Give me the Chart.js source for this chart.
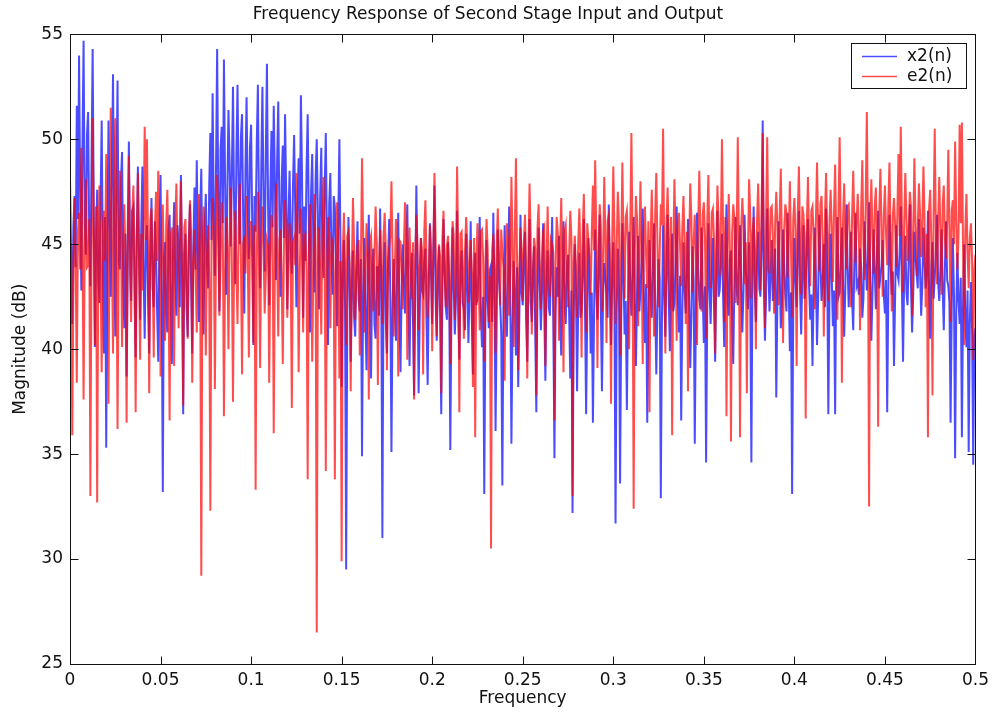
<!DOCTYPE html>
<html>
<head>
<meta charset="utf-8">
<script src="https://cdn.jsdelivr.net/npm/chart.js@4.4.0/dist/chart.umd.min.js"></script>
<style>
  html, body { margin: 0; padding: 0; background: #fff; }
  #wrap { width: 995px; height: 719px; }
</style>
</head>
<body>
<div id="wrap"><canvas id="c" width="995" height="719"></canvas></div>
<script>
// Frequency grid: 801 samples from 0 to 0.5 (16 per 0.01)
const FREQ_STEP = 0.000625;

// Second stage input x2(n), magnitude in dB
const x2Mag = [
  48.1, 44.6, 41.2, 45.8, 47.3, 43.9, 51.6, 46.2, 54.0, 47.5, 42.8, 49.7, 54.7, 46.1, 44.5, 50.2,
  51.3, 45.4, 43.0, 48.8, 54.3, 46.7, 40.1, 44.9, 47.6, 43.3, 42.2, 47.1, 50.9, 44.0, 39.8, 46.3,
  35.3, 44.7, 50.9, 46.0, 42.5, 48.3, 53.1, 45.6, 40.6, 47.9, 52.8, 44.2, 43.8, 48.0, 49.4, 43.1,
  41.0, 45.5, 38.7, 44.1, 49.9, 45.0, 42.3, 46.6, 46.8, 42.7, 39.6, 45.3, 48.7, 44.4, 41.4, 46.0,
  48.7, 43.6, 40.5, 45.1, 45.9, 42.4, 39.8, 44.8, 47.2, 43.0, 42.0, 46.1, 44.6, 41.7, 39.4, 45.6,
  48.3, 42.9, 33.2, 44.3, 45.1, 41.8, 40.8, 45.7, 46.4, 42.5, 39.3, 44.6, 47.0, 43.4, 41.6, 45.9,
  44.8, 42.0, 48.3, 43.7, 36.9, 44.5, 45.5, 41.9, 40.6, 45.2, 46.9, 43.1, 39.8, 44.9, 47.7, 43.8,
  49.0, 44.6, 41.3, 46.3, 48.6, 43.2, 40.7, 45.9, 47.4, 44.1, 42.9, 47.8, 50.3, 45.2, 52.2, 46.5,
  43.5, 48.6, 54.3, 47.2, 41.8, 49.5, 50.6, 46.0, 53.8, 48.1, 42.6, 47.4, 51.4, 49.0, 44.9, 48.4,
  52.5, 46.8, 43.1, 49.2, 52.6, 47.7, 45.0, 50.1, 51.2, 46.3, 41.7, 48.5, 52.0, 47.0, 44.3, 49.6,
  50.7, 45.9, 40.2, 47.3, 45.6, 49.8, 52.6, 46.4, 42.9, 48.7, 52.5, 47.1, 43.7, 49.3, 53.6, 46.9,
  42.1, 47.6, 50.4, 45.8, 51.6, 48.2, 43.3, 49.0, 51.8, 46.5, 42.5, 48.0, 49.7, 45.3, 51.2, 47.4,
  41.9, 46.2, 48.5, 44.9, 43.6, 47.8, 50.2, 46.6, 42.0, 47.0, 49.1, 45.5, 52.1, 48.3, 41.5, 46.8,
  44.2, 48.6, 51.2, 46.1, 40.8, 47.5, 49.3, 45.0, 42.7, 48.1, 50.0, 46.3, 41.9, 47.2, 49.6, 44.7,
  43.4, 47.6, 50.3, 45.2, 40.2, 46.9, 48.4, 44.5, 42.6, 47.3, 46.8, 43.9, 41.1, 46.0, 50.0, 44.8,
  38.2, 43.5, 45.2, 42.1, 29.5, 41.8, 46.3, 43.3, 39.4, 42.9, 44.7, 41.5, 40.6, 43.8, 46.1, 42.4,
  41.8, 44.3, 34.9, 42.7, 45.3, 41.4, 39.0, 43.6, 46.4, 42.0, 38.6, 44.0, 44.8, 41.2, 40.5, 43.9,
  43.9, 41.6, 46.7, 42.8, 31.0, 43.5, 45.1, 41.3, 39.8, 44.2, 46.2, 42.6, 35.1, 41.9, 44.3, 42.2,
  40.4, 43.7, 46.5, 41.8, 38.9, 42.9, 45.0, 43.2, 41.7, 44.5, 46.9, 42.3, 39.2, 43.4, 44.6, 41.5,
  37.8, 42.6, 47.8, 43.9, 37.9, 41.7, 45.3, 42.8, 42.6, 44.1, 44.8, 41.2, 38.3, 42.9, 46.0, 43.6,
  41.2, 44.4, 47.8, 42.5, 40.4, 43.1, 44.9, 41.6, 36.9, 42.7, 46.2, 43.8, 42.0, 41.4, 45.1, 42.9,
  35.2, 41.9, 45.8, 43.0, 40.7, 42.4, 46.6, 41.8, 39.5, 43.7, 44.7, 42.2, 41.9, 40.9, 45.5, 43.3,
  40.3, 42.8, 46.1, 41.5, 38.8, 43.6, 44.6, 42.1, 42.4, 44.0, 46.3, 41.7, 40.1, 42.5, 33.1, 41.2,
  45.2, 42.4, 41.0, 43.8, 44.0, 41.3, 46.5, 42.9, 36.1, 41.6, 45.7, 43.5, 42.3, 40.8, 33.5, 42.0,
  45.9, 41.9, 40.6, 43.4, 46.8, 42.6, 35.5, 41.1, 44.2, 42.8, 39.7, 43.9, 38.2, 41.5, 46.4, 42.7,
  42.1, 44.3, 45.6, 41.4, 39.4, 43.0, 46.2, 42.3, 41.3, 43.7, 44.9, 41.0, 37.0, 42.6, 45.8, 43.1,
  40.9, 42.7, 46.0, 41.9, 38.5, 43.3, 44.7, 42.0, 41.6, 44.1, 46.3, 41.4, 34.8, 41.8, 43.9, 42.5,
  45.4, 41.6, 39.7, 43.5, 46.1, 42.4, 41.2, 43.9, 44.5, 41.7, 38.6, 42.8, 32.2, 41.3, 45.0, 42.9,
  38.0, 42.2, 44.6, 41.5, 41.9, 43.6, 46.2, 42.0, 36.9, 41.8, 45.3, 43.2, 39.8, 42.7, 36.5, 41.6,
  45.7, 42.9, 41.4, 43.7, 46.4, 41.9, 38.0, 42.6, 44.1, 43.4, 42.7, 41.5, 46.9, 42.8, 40.2, 43.3,
  45.1, 42.0, 31.7, 41.7, 44.8, 42.9, 33.6, 41.4, 46.0, 43.6, 40.7, 42.3, 37.1, 41.9, 45.6, 43.0,
  41.6, 43.8, 46.3, 42.1, 39.2, 42.7, 45.4, 41.8, 42.8, 44.2, 46.7, 42.5, 40.3, 43.1, 36.5, 41.6,
  45.2, 42.8, 41.5, 43.9, 46.0, 42.2, 38.8, 41.9, 44.3, 43.3, 32.9, 41.5, 45.9, 42.6, 40.6, 43.7,
  46.4, 42.4, 39.9, 43.1, 45.5, 41.8, 42.2, 44.0, 46.8, 42.7, 40.8, 43.5, 36.6, 41.7, 45.1, 42.9,
  41.7, 43.6, 46.2, 42.3, 39.1, 41.6, 44.9, 43.2, 35.5, 42.0, 46.5, 43.8, 42.4, 41.9, 45.8, 42.6,
  40.3, 43.0, 34.6, 41.8, 46.0, 42.9, 41.2, 43.7, 45.3, 42.1, 39.4, 43.4, 46.6, 42.5, 42.8, 44.1,
  45.5, 42.6, 40.1, 43.9, 46.9, 42.2, 41.6, 44.3, 44.7, 41.7, 39.3, 43.2, 46.3, 42.9, 42.1, 44.5,
  45.9, 43.1, 40.8, 42.7, 46.4, 43.8, 43.0, 41.9, 45.1, 42.4, 34.6, 43.6, 46.8, 42.8, 41.3, 44.2,
  45.6, 42.9, 42.5, 44.7, 50.9, 43.3, 40.4, 42.6, 46.7, 44.0, 41.8, 43.5, 45.2, 42.3, 43.4, 44.8,
  37.7, 42.5, 46.1, 43.7, 41.0, 42.2, 45.7, 43.9, 42.6, 41.8, 46.5, 43.0, 39.9, 42.7, 33.1, 42.1,
  45.3, 43.4, 42.0, 44.6, 46.6, 42.8, 40.7, 43.5, 45.9, 42.4, 43.1, 44.9, 46.2, 43.0, 41.4, 42.6,
  39.2, 42.9, 45.8, 43.6, 40.2, 42.4, 46.4, 44.1, 42.3, 43.2, 45.0, 42.0, 46.7, 43.8, 36.9, 42.7,
  45.5, 43.5, 41.1, 42.8, 36.9, 43.9, 46.3, 42.5, 42.7, 44.4, 45.8, 43.1, 40.6, 42.9, 46.9, 44.0,
  42.0, 43.6, 45.6, 42.3, 40.9, 44.2, 46.5, 43.0, 43.2, 42.6, 44.8, 43.9, 41.5, 42.4, 46.1, 44.3,
  42.8, 44.1, 47.0, 43.4, 40.4, 42.7, 45.7, 43.8, 41.9, 44.5, 46.6, 42.9, 43.5, 44.0, 45.2, 42.6,
  41.7, 43.3, 37.0, 42.8, 46.4, 44.2, 42.6, 43.7, 39.2, 42.5, 45.9, 43.6, 43.3, 44.6, 46.8, 42.9,
  39.4, 43.5, 45.4, 42.7, 42.1, 44.3, 46.9, 43.1, 40.8, 42.6, 45.6, 44.4, 43.7, 42.9, 46.2, 43.8,
  41.6, 43.0, 45.8, 44.2, 42.9, 43.5, 46.6, 42.8, 40.5, 43.9, 45.1, 42.4, 43.4, 44.7, 46.4, 43.2,
  42.3, 43.8, 45.7, 42.9, 40.9, 44.0, 46.1, 43.3, 43.0, 42.2, 36.5, 41.9, 45.3, 42.6, 34.8, 41.7,
  44.6, 42.3, 41.2, 43.4, 35.8, 42.0, 45.0, 41.5, 40.1, 42.8, 35.1, 41.3, 43.2, 40.9, 34.5, 40.6,
  41.0
];

// Second stage output e2(n), magnitude in dB
const e2Mag = [
  41.7, 44.9, 35.9, 43.2, 47.2, 44.1, 38.4, 45.6, 46.5, 43.8, 49.6, 45.3, 37.6, 44.7, 48.1, 43.9,
  44.0, 46.2, 33.0, 44.5, 51.0, 45.1, 40.2, 46.8, 32.7, 44.3, 47.8, 43.6, 38.9, 45.9, 46.6, 44.2,
  49.3, 45.4, 37.4, 46.3, 51.5, 44.8, 39.8, 47.0, 51.0, 45.7, 36.2, 44.0, 48.5, 46.1, 40.1, 45.2,
  46.9, 44.3, 36.5, 45.8, 49.2, 43.7, 41.3, 46.4, 47.8, 44.6, 37.0, 45.1, 48.4, 43.9, 39.5, 45.5,
  42.8, 46.0, 50.6, 45.2, 50.0, 44.4, 37.9, 46.2, 46.7, 43.8, 39.6, 45.7, 47.5, 44.2, 48.5, 45.0,
  38.7, 44.6, 46.9, 43.5, 40.4, 45.9, 47.6, 44.1, 36.6, 45.4, 45.8, 43.3, 39.2, 46.0, 47.9, 44.4,
  41.0, 45.3, 48.0, 44.0, 37.3, 45.8, 46.2, 43.6, 40.5, 44.9, 47.1, 45.5, 38.4, 44.2, 45.7, 43.7,
  40.8, 45.1, 47.4, 44.3, 29.2, 43.9, 46.8, 45.0, 39.7, 44.5, 45.9, 43.4, 32.3, 44.8, 47.2, 45.6,
  38.1, 44.7, 48.3, 45.2, 41.6, 44.0, 47.0, 45.8, 36.8, 43.7, 46.3, 44.9, 40.0, 45.4, 47.7, 44.1,
  37.5, 44.6, 46.6, 43.9, 41.2, 45.7, 47.9, 44.3, 38.8, 45.0, 45.4, 43.6, 47.3, 44.8, 39.6, 45.5,
  46.1, 44.2, 40.3, 45.9, 33.3, 44.4, 47.5, 43.8, 39.1, 45.3, 46.8, 44.7, 41.7, 43.5, 45.2, 44.9,
  38.4, 44.1, 46.4, 45.6, 36.0, 43.9, 47.9, 44.6, 40.6, 45.2, 45.7, 43.4, 39.3, 44.8, 47.1, 45.3,
  41.5, 44.3, 46.0, 43.7, 37.2, 45.1, 45.3, 44.0, 48.4, 45.8, 38.9, 43.6, 46.7, 44.5, 40.8, 45.4,
  45.5, 43.8, 33.8, 44.6, 46.9, 45.0, 39.4, 43.5, 47.4, 44.7, 26.5, 44.1, 45.8, 43.9, 40.7, 45.6,
  48.2, 44.9, 34.2, 43.7, 46.3, 44.4, 41.0, 45.3, 45.1, 43.6, 33.8, 44.8, 47.0, 45.1, 38.6, 44.2,
  29.9, 44.5, 46.5, 43.9, 40.2, 45.4, 45.6, 44.1, 38.0, 43.8, 47.2, 44.9, 41.4, 43.5, 44.9, 45.2,
  39.7, 44.2, 49.1, 45.5, 40.8, 43.9, 46.0, 44.6, 37.6, 45.1, 45.4, 43.7, 41.8, 44.4, 46.8, 45.0,
  38.3, 44.0, 45.7, 43.6, 41.2, 45.3, 46.5, 44.8, 39.0, 43.9, 44.8, 45.4, 48.0, 44.3, 40.6, 43.8,
  46.2, 44.5, 38.7, 45.2, 45.1, 43.7, 41.9, 44.9, 47.0, 45.5, 39.5, 44.1, 45.8, 43.6, 42.4, 45.1,
  37.6, 44.3, 46.4, 45.0, 40.9, 43.8, 45.3, 44.7, 38.8, 45.6, 47.1, 44.0, 41.5, 43.5, 45.9, 44.8,
  39.9, 44.6, 48.4, 45.3, 40.6, 43.9, 45.0, 44.4, 37.9, 45.2, 46.6, 43.7, 42.0, 44.9, 45.4, 43.6,
  39.3, 44.1, 46.1, 45.4, 41.4, 43.8, 48.7, 44.6, 37.0, 45.5, 45.6, 43.9, 40.5, 44.7, 46.3, 45.0,
  42.2, 44.0, 45.2, 43.6, 38.2, 45.3, 35.8, 44.2, 46.0, 43.7, 40.9, 45.6, 45.7, 44.4, 39.4, 43.9,
  46.2, 44.8, 41.3, 43.5, 30.5, 44.7, 45.5, 43.8, 39.8, 45.1, 46.7, 44.3, 42.1, 45.7, 44.6, 43.9,
  38.5, 44.4, 46.0, 45.2, 41.6, 43.7, 48.2, 44.9, 40.1, 45.5, 49.1, 44.2, 39.0, 43.8, 45.8, 44.6,
  42.3, 45.1, 46.4, 43.9, 38.6, 44.5, 47.9, 45.4, 40.7, 43.6, 45.3, 44.8, 37.8, 45.7, 46.9, 44.0,
  41.9, 44.3, 45.6, 45.8, 39.2, 44.1, 46.8, 43.7, 42.5, 45.2, 45.0, 44.6, 36.6, 43.9, 46.3, 45.5,
  40.4, 44.8, 47.2, 44.0, 38.9, 45.6, 45.9, 43.8, 42.0, 44.5, 46.6, 45.3, 33.0, 44.2, 45.4, 43.9,
  41.5, 45.0, 46.7, 44.4, 39.6, 45.7, 47.4, 44.1, 40.8, 46.0, 45.2, 44.3, 42.6, 45.5, 47.8, 44.7,
  49.0, 45.3, 39.1, 44.6, 46.9, 45.9, 41.8, 44.2, 48.2, 45.4, 40.3, 46.1, 46.4, 44.5, 37.4, 45.0,
  48.7, 45.6, 41.2, 44.8, 47.5, 46.0, 39.7, 44.3, 48.9, 45.2, 42.4, 46.3, 46.6, 44.9, 40.0, 45.7,
  50.3, 45.1, 32.4, 44.6, 47.3, 46.2, 41.1, 45.0, 48.0, 44.7, 39.3, 45.8, 46.8, 44.4, 42.9, 46.1,
  37.0, 45.3, 47.6, 44.9, 40.6, 46.4, 48.4, 45.1, 42.0, 44.6, 46.9, 45.9, 50.5, 44.8, 39.8, 46.0,
  47.7, 45.2, 41.9, 46.3, 35.9, 44.7, 48.1, 45.5, 40.4, 46.1, 46.5, 44.9, 43.0, 45.8, 47.3, 45.0,
  41.2, 45.6, 38.0, 44.8, 47.9, 46.2, 42.7, 45.1, 46.4, 44.6, 40.2, 45.9, 48.5, 45.3, 41.8, 46.4,
  47.0, 45.4, 40.5, 46.0, 48.3, 44.9, 42.9, 46.5, 46.7, 45.2, 39.8, 44.7, 47.8, 46.1, 43.5, 45.5,
  50.0, 45.8, 41.3, 46.3, 36.8, 45.0, 47.4, 44.8, 35.6, 45.6, 46.9, 46.2, 42.2, 45.3, 50.1, 44.9,
  35.8, 45.7, 47.2, 46.0, 43.1, 45.1, 37.9, 44.7, 48.1, 46.4, 42.4, 45.5, 46.3, 44.8, 40.0, 46.1,
  47.9, 45.3, 42.8, 46.6, 50.3, 45.0, 41.0, 46.2, 50.1, 44.9, 43.6, 46.7, 46.8, 45.4, 41.7, 46.0,
  47.5, 45.9, 42.1, 46.3, 48.6, 44.8, 40.3, 45.7, 46.9, 46.5, 43.4, 45.2, 48.0, 44.9, 41.5, 46.2,
  47.2, 45.6, 39.2, 46.4, 48.7, 45.1, 42.6, 46.8, 46.4, 45.3, 36.7, 45.9, 48.2, 44.9, 43.0, 46.6,
  46.8, 45.4, 41.9, 46.1, 48.9, 45.7, 43.7, 46.9, 47.3, 45.0, 40.6, 46.3, 48.4, 45.5, 42.3, 46.0,
  47.6, 45.8, 43.2, 46.5, 48.8, 45.2, 41.4, 46.7, 50.1, 45.6, 38.4, 46.2, 47.9, 45.0, 43.8, 46.8,
  46.9, 45.3, 42.0, 46.4, 48.5, 45.9, 44.1, 46.1, 47.4, 45.5, 40.9, 46.6, 49.0, 45.1, 43.3, 46.9,
  51.3, 45.7, 32.5, 46.2, 48.1, 45.4, 43.6, 46.8, 47.7, 45.0, 36.3, 46.5, 48.6, 45.8, 42.5, 46.3,
  47.8, 45.5, 44.0, 46.9, 48.9, 45.2, 41.8, 46.4, 47.2, 45.9, 43.9, 46.6, 49.3, 45.4, 50.6, 46.1,
  42.7, 45.8, 48.4, 46.3, 44.2, 45.6, 47.5, 46.8, 41.6, 45.3, 49.1, 46.0, 43.5, 45.7, 47.9, 46.5,
  44.4, 45.9, 48.7, 46.2, 42.0, 45.5, 35.8, 46.7, 47.6, 45.1, 37.8, 46.4, 50.5, 45.8, 43.1, 46.0,
  48.2, 45.6, 42.6, 46.9, 47.8, 45.3, 44.3, 46.1, 49.5, 45.7, 41.3, 46.6, 47.1, 45.0, 49.9, 46.2,
  43.8, 45.4, 50.7, 46.0, 50.8, 44.9, 40.2, 45.6, 47.4, 44.6, 42.9, 45.3, 46.0, 44.2, 39.5, 43.8,
  44.5
];

const xTicks = [0, 0.05, 0.1, 0.15, 0.2, 0.25, 0.3, 0.35, 0.4, 0.45, 0.5];
const xTickLabels = ['0', '0.05', '0.1', '0.15', '0.2', '0.25', '0.3', '0.35', '0.4', '0.45', '0.5'];
const yTicks = [25, 30, 35, 40, 45, 50, 55];

const seriesNames = ['x2(n)', 'e2(n)'];
const seriesColors = ['rgba(0, 0, 255, 0.7)', 'rgba(255, 0, 0, 0.7)'];

function toPoints(values) {
  return values.map((v, i) => ({ x: i * FREQ_STEP, y: v }));
}

// MATLAB style box with inward ticks on all four sides, plus boxed legend
const boxPlugin = {
  id: 'matlabBox',
  afterDraw(chart) {
    const ctx = chart.ctx;
    const a = chart.chartArea;
    const xs = chart.scales.x;
    const ys = chart.scales.y;
    const L = Math.round(a.left) + 0.5;
    const R = Math.round(a.right) + 0.5;
    const T = Math.round(a.top) + 0.5;
    const B = Math.round(a.bottom) + 0.5;
    const tick = 8;

    ctx.save();
    ctx.strokeStyle = '#111';
    ctx.lineWidth = 1;
    ctx.strokeRect(L, T, R - L, B - T);

    ctx.beginPath();
    xTicks.forEach((v) => {
      const px = Math.round(xs.getPixelForValue(v)) + 0.5;
      ctx.moveTo(px, B); ctx.lineTo(px, B - tick);
      ctx.moveTo(px, T); ctx.lineTo(px, T + tick);
    });
    yTicks.forEach((v) => {
      const py = Math.round(ys.getPixelForValue(v)) + 0.5;
      ctx.moveTo(L, py); ctx.lineTo(L + tick, py);
      ctx.moveTo(R, py); ctx.lineTo(R - tick, py);
    });
    ctx.stroke();

    // legend
    const lx = 851.5, ly = 43.5, lw = 115, lh = 45;
    ctx.fillStyle = '#fff';
    ctx.fillRect(lx, ly, lw, lh);
    ctx.strokeRect(lx, ly, lw, lh);
    ctx.font = '17px "DejaVu Sans"';
    ctx.textBaseline = 'middle';
    seriesNames.forEach((name, i) => {
      const y = 56.5 + i * 20;
      ctx.strokeStyle = seriesColors[i];
      ctx.lineWidth = 1.5;
      ctx.beginPath();
      ctx.moveTo(862, y);
      ctx.lineTo(897, y);
      ctx.stroke();
      ctx.fillStyle = '#111';
      ctx.fillText(name, 907, y);
    });
    ctx.restore();
  }
};

Chart.defaults.font.family = '"DejaVu Sans", sans-serif';
Chart.defaults.font.size = 17;
Chart.defaults.color = '#111';

new Chart(document.getElementById('c'), {
  type: 'line',
  data: {
    datasets: [
      {
        label: seriesNames[0],
        data: toPoints(x2Mag),
        borderColor: seriesColors[0],
        borderWidth: 2,
        pointRadius: 0,
        tension: 0,
        fill: false,
        order: 1,
      },
      {
        label: seriesNames[1],
        data: toPoints(e2Mag),
        borderColor: seriesColors[1],
        borderWidth: 2,
        pointRadius: 0,
        tension: 0,
        fill: false,
        order: 0,
      },
    ],
  },
  options: {
    responsive: false,
    animation: false,
    events: [],
    layout: { padding: { left: 0, right: 19, top: 0, bottom: 0 } },
    plugins: {
      legend: { display: false },
      tooltip: { enabled: false },
      title: {
        display: true,
        text: 'Frequency Response of Second Stage Input and Output',
        font: { size: 17, weight: 'normal' },
        color: '#111',
        padding: { top: 4, bottom: 10 },
      },
    },
    scales: {
      x: {
        type: 'linear',
        min: 0,
        max: 0.5,
        grid: { display: false, drawTicks: false },
        border: { display: false },
        afterBuildTicks: (scale) => {
          scale.ticks = xTicks.map((v) => ({ value: v }));
        },
        afterFit: (scale) => { scale.height = 55; },
        ticks: {
          padding: 6,
          maxRotation: 0,
          autoSkip: false,
          callback: (v, i) => xTickLabels[i],
        },
        title: { display: true, text: 'Frequency', padding: { top: 0, bottom: 10 } },
      },
      y: {
        min: 25,
        max: 55,
        grid: { display: false, drawTicks: false },
        border: { display: false },
        afterBuildTicks: (scale) => {
          scale.ticks = yTicks.map((v) => ({ value: v }));
        },
        afterFit: (scale) => { scale.width = 70; },
        ticks: { padding: 7, autoSkip: false },
        title: { display: true, text: 'Magnitude (dB)', padding: { top: 10, bottom: 0 } },
      },
    },
  },
  plugins: [boxPlugin],
});
</script>
</body>
</html>
